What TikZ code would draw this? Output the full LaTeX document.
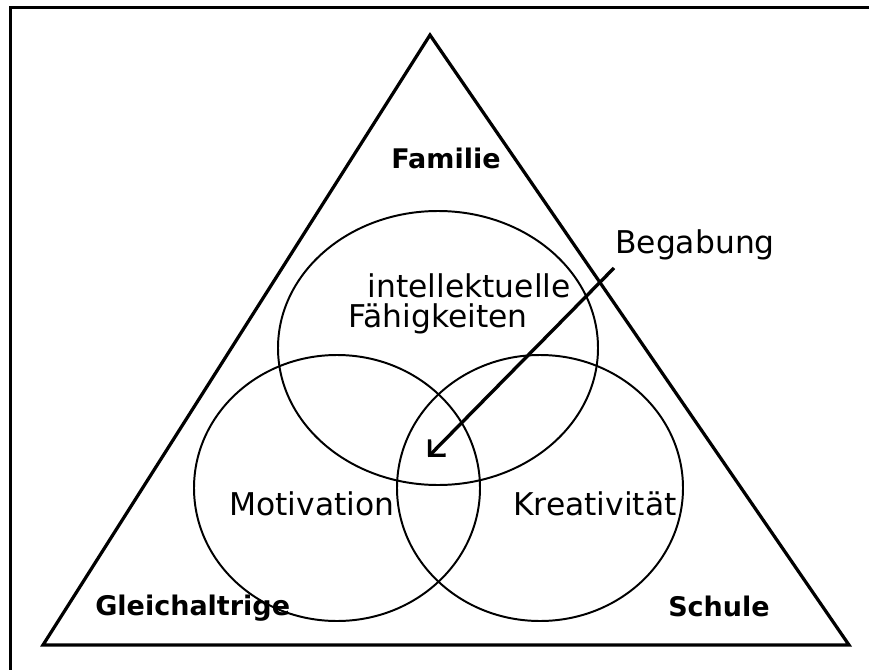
\documentclass[tikz,border=0pt]{standalone}
\usepackage{fontspec}
\setmainfont{DejaVu Sans}
\usetikzlibrary{arrows.meta}

\tikzset{
  venn/.style={draw, line width=1.4pt},
  ringtext/.style={inner sep=0pt, font=\fontsize{22.3}{26}\selectfont},
  cornertext/.style={inner sep=0pt, font=\fontsize{19.2}{23}\selectfont\bfseries}
}

\begin{document}
\begin{tikzpicture}[x=0.025cm, y=-0.025cm]
\useasboundingbox (0,0) rectangle (869,670);
\draw[line width=1.9pt] (10.5,670) -- (10.5,7.5) -- (869,7.5);

% triangle
\coordinate (apex) at (430,35);
\coordinate (bl) at (43,645);
\coordinate (br) at (849,645);
\draw[line width=2.3pt, line join=miter] (apex) -- (br) -- (bl) -- cycle;

% three rings
\draw[venn] (438,348) ellipse [x radius=160, y radius=137];
\draw[venn] (337,488) ellipse [x radius=143, y radius=133];
\draw[venn] (540,488) ellipse [x radius=143, y radius=133];

\node[cornertext, anchor=base] (fam) at (446,168) {Familie};
\node[cornertext, anchor=base west] (glei) at (95,615) {Gleichaltrige};
\node[cornertext, anchor=base east] (schule) at (770,616) {Schule};

\node[ringtext, anchor=base east] (intel) at (571,297) {intellektuelle};
\node[ringtext, anchor=base east] (faehig) at (528,327) {Fähigkeiten};
\node[ringtext, anchor=base west] (motiv) at (229,515) {Motivation};
\node[ringtext, anchor=base west] (kreat) at (513,515) {Kreativität};
\node[ringtext, anchor=base west] (begab) at (615,253) {Begabung};

\coordinate (from) at (614,268);
\coordinate (tip) at (428,457);
\draw[line width=2.4pt, -{Straight Barb[length=8pt, width=16pt]}] (from) -- (tip);
\end{tikzpicture}
\end{document}
